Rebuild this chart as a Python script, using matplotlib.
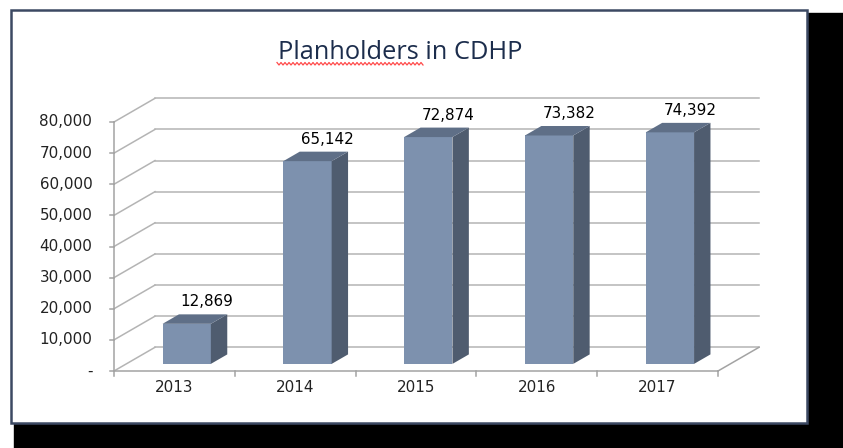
import numpy as np
import matplotlib
matplotlib.use("Agg")
import matplotlib.pyplot as plt
from matplotlib.patches import Polygon, Rectangle
from matplotlib.lines import Line2D

# ---- data ----
years = ["2013", "2014", "2015", "2016", "2017"]
planholders = [12869, 65142, 72874, 73382, 74392]
y_ticks = [0, 10000, 20000, 30000, 40000, 50000, 60000, 70000, 80000]
y_tick_labels = ["-", "10,000", "20,000", "30,000", "40,000",
                 "50,000", "60,000", "70,000", "80,000"]
title = "Planholders in CDHP"

W, H = 843, 448
fig = plt.figure(figsize=(W / 100, H / 100), dpi=100)
fig.patch.set_facecolor("white")

# drop shadow and frame around the chart area (behind the axes)
fig.patches.append(Rectangle((808 / W, 0), (W - 808) / W, (H - 13) / H,
                             transform=fig.transFigure, color="black", zorder=-3))
fig.patches.append(Rectangle((14 / W, 0), (W - 14) / W, (H - 424) / H,
                             transform=fig.transFigure, color="black", zorder=-3))
fig.patches.append(Rectangle((11 / W, (H - 423) / H), 796 / W, 413 / H,
                             transform=fig.transFigure, facecolor="white",
                             edgecolor="#3c4963", linewidth=1.8, zorder=-2))

# front plane of the 3-D plot
ax = fig.add_axes([114 / W, (H - 371) / H, 604 / W, 249 / H])
ax.set_xlim(-0.5, 4.5)
ax.set_ylim(0, 80000)
ax.axis("off")
ax.patch.set_visible(False)

n = len(years)
DX = 41 / 604 * n          # depth offset in category units
DY = 23.7 / 249 * 80000    # depth offset in value units
grid_c = "#b4b4b4"
axis_c = "#a3a3a3"
fs = 10.9

# back wall gridlines, side-wall diagonals and value ticks
for v, lab in zip(y_ticks, y_tick_labels):
    ax.plot([-0.5 + DX, n - 0.5 + DX], [v + DY, v + DY], color=grid_c,
            lw=1.1, clip_on=False, zorder=1)
    ax.plot([-0.5, -0.5 + DX], [v, v + DY], color=grid_c,
            lw=1.1, clip_on=False, zorder=1)
    ax.plot([-0.5 - 0.033, -0.5], [v, v], color=axis_c, lw=1.1,
            clip_on=False, zorder=2)
    ax.text(-0.5 - 0.18, v, lab, ha="right", va="center", fontsize=fs,
            color="#222222", family="DejaVu Sans")

# floor right edge
ax.plot([n - 0.5, n - 0.5 + DX], [0, DY], color=axis_c, lw=1.1,
        clip_on=False, zorder=2)
# front axes
ax.plot([-0.5, -0.5], [0, 80000], color=axis_c, lw=1.1, clip_on=False, zorder=2)
ax.plot([-0.5, n - 0.5], [0, 0], color=axis_c, lw=1.1, clip_on=False, zorder=2)
for b in range(n + 1):
    ax.plot([b - 0.5, b - 0.5], [0, -1600], color=axis_c, lw=1.1,
            clip_on=False, zorder=2)

front_c = "#7d91ae"
side_c = "#4f5c6f"
top_c = "#5f6f87"
bw = 0.4           # bar width in category units
d0, d1 = 0.3, 0.7  # bar depth span as fraction of full depth

for i, (yr, val) in enumerate(zip(years, planholders)):
    x0 = i - bw / 2 + d0 * DX
    x1 = i + bw / 2 + d0 * DX
    yb = d0 * DY
    yt = yb + val
    ex = (d1 - d0) * DX
    ey = (d1 - d0) * DY
    ax.add_patch(Polygon([(x0, yb), (x1, yb), (x1, yt), (x0, yt)],
                         closed=True, facecolor=front_c, edgecolor="none",
                         clip_on=False, zorder=5))
    ax.add_patch(Polygon([(x1, yb), (x1 + ex, yb + ey), (x1 + ex, yt + ey), (x1, yt)],
                         closed=True, facecolor=side_c, edgecolor="none",
                         clip_on=False, zorder=5))
    ax.add_patch(Polygon([(x0, yt), (x1, yt), (x1 + ex, yt + ey), (x0 + ex, yt + ey)],
                         closed=True, facecolor=top_c, edgecolor="none",
                         clip_on=False, zorder=5))
    ax.annotate(f"{val:,}", xy=(i + d0 * DX, yt), xytext=(20, 22),
                textcoords="offset pixels", ha="center", va="center",
                fontsize=fs, color="black", family="DejaVu Sans",
                annotation_clip=False, zorder=6)
    ax.text(i, -5400, yr, ha="center", va="center", fontsize=fs,
            color="#222222", family="DejaVu Sans")

# chart title with spell-check underline
fig.text(400 / W, 1 - 59 / H, title, ha="center", va="baseline",
         fontsize=18.3, color="#1c2d4c", family="Open Sans")
zx = np.arange(277, 425, 2.0)
zy = np.where(np.arange(zx.size) % 2 == 0, 62.5, 65.0)
fig.lines.append(Line2D(zx / W, 1 - zy / H, transform=fig.transFigure,
                        color="#ff4a4a", lw=0.9))

fig.savefig("out.png", dpi=100, facecolor="white")
